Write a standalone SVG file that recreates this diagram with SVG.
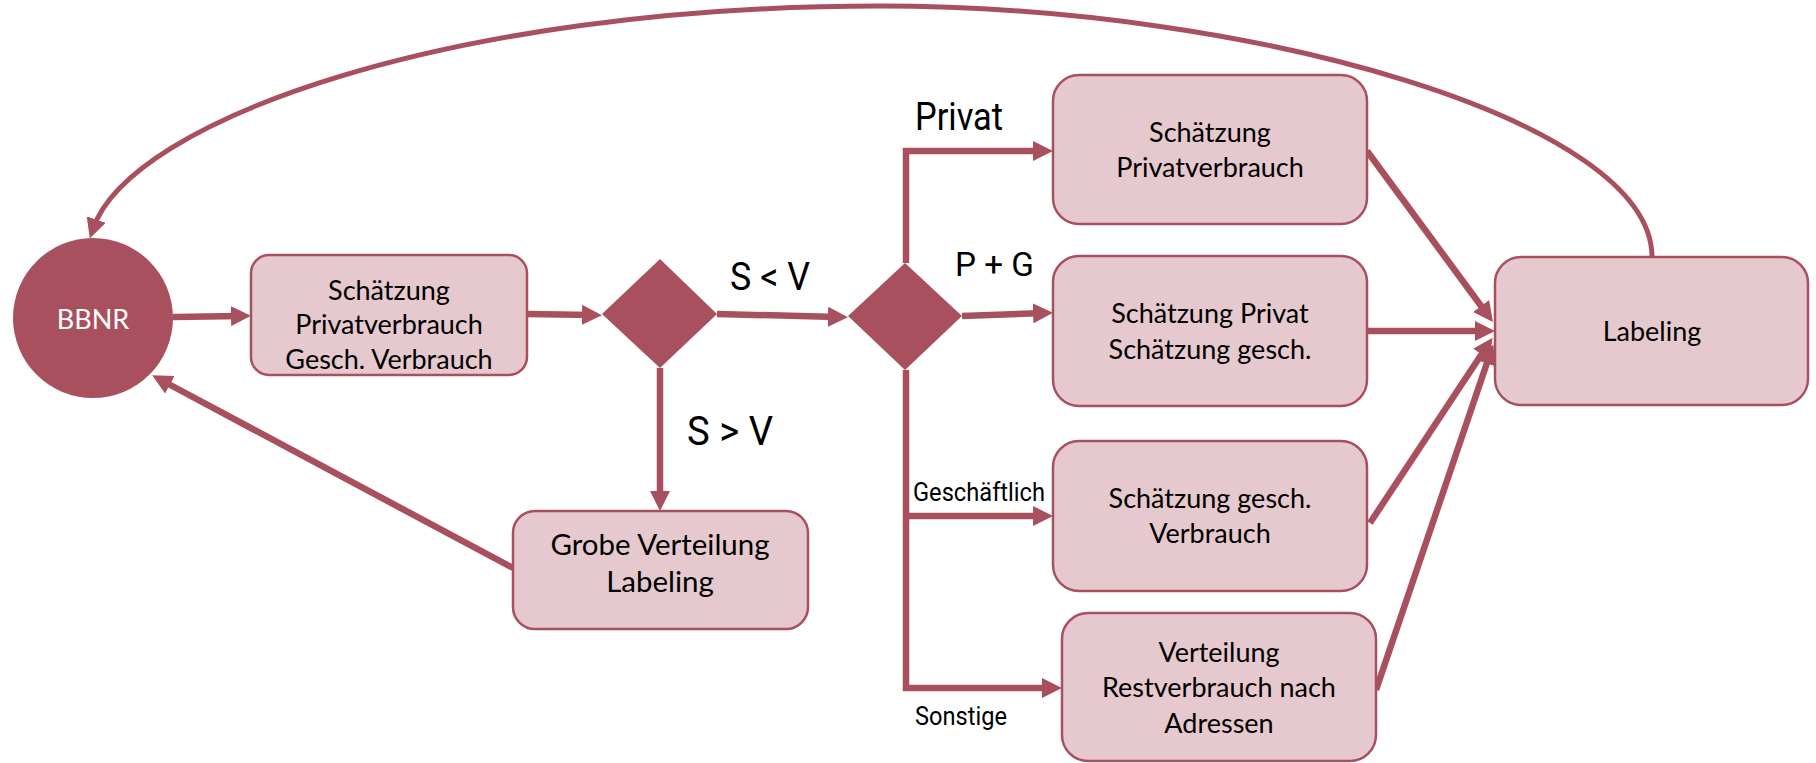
<svg xmlns="http://www.w3.org/2000/svg" width="1816" height="763" viewBox="0 0 1816 763">
<defs>
<style>
.box{fill:#e6c9ce;stroke:#a9505f;stroke-width:2.5}
.dec{fill:#a9505f}
.bt{font-family:Lato,"Open Sans",sans-serif;fill:#000;text-anchor:middle}
.lbl{font-family:Roboto,"Liberation Sans",sans-serif;fill:#000}
.con{fill:none;stroke:#a9505f;stroke-width:6.5}
.thin{fill:none;stroke:#a9505f;stroke-width:5}
</style>
<marker id="ah" viewBox="0 0 20 20" refX="10" refY="10" markerWidth="20" markerHeight="20" markerUnits="userSpaceOnUse" orient="auto">
<path d="M0,0 L20,10 L0,20 z" fill="#a9505f"/>
</marker>
</defs>
<rect width="1816" height="763" fill="#fff"/>

<g id="connectors">
<path class="thin" d="M1652,257 C1652,120 1250,6 880,6 C450,6 130,120 93,229" marker-end="url(#ah)"/>
<path class="con" d="M173,317 L241,316" marker-end="url(#ah)"/>
<path class="con" d="M527,314 L592,315" marker-end="url(#ah)"/>
<path class="con" d="M717,314 L838,317" marker-end="url(#ah)"/>
<path class="con" d="M660,368 L660,501" marker-end="url(#ah)"/>
<path class="con" d="M513,568 L161,380" marker-end="url(#ah)"/>
<path class="con" d="M906,263 L906,151 L1043,151" marker-end="url(#ah)"/>
<path class="con" d="M962,316 L1043,313" marker-end="url(#ah)"/>
<path class="con" d="M906,370 L906,688 L1052,688" marker-end="url(#ah)"/>
<path class="con" d="M906,516 L1043,516" marker-end="url(#ah)"/>
<path class="con" d="M1367,151 L1487,314" marker-end="url(#ah)"/>
<path class="con" d="M1367,331 L1485,331" marker-end="url(#ah)"/>
<path class="con" d="M1370,523 L1487,346" marker-end="url(#ah)"/>
<path class="con" d="M1376,690 L1490,354" marker-end="url(#ah)"/>
</g>

<g id="bbnr">
<circle cx="93" cy="318" r="80" fill="#a9505f"/>
<text class="bt" x="93" y="329" font-size="27" style="fill:#fff">BBNR</text>
</g>

<g id="box1">
<rect class="box" x="251" y="255" width="276" height="120" rx="18"/>
<text class="bt" x="389" y="300" font-size="27">Schätzung</text>
<text class="bt" x="389" y="334" font-size="27">Privatverbrauch</text>
<text class="bt" x="389" y="369" font-size="27">Gesch. Verbrauch</text>
</g>

<g id="decision1"><polygon class="dec" points="660,259 717,314 660,368 602,314"/></g>
<g id="decision2"><polygon class="dec" points="905,263 962,316 905,370 848,316"/></g>

<g id="grobe">
<rect class="box" x="513" y="511" width="295" height="118" rx="22"/>
<text class="bt" x="660" y="555" font-size="29.5">Grobe Verteilung</text>
<text class="bt" x="660" y="592" font-size="29.5">Labeling</text>
</g>

<g id="privat">
<rect class="box" x="1053" y="75" width="314" height="149" rx="26"/>
<text class="bt" x="1210" y="142" font-size="27">Schätzung</text>
<text class="bt" x="1210" y="177" font-size="27">Privatverbrauch</text>
</g>

<g id="pg">
<rect class="box" x="1053" y="256" width="314" height="150" rx="26"/>
<text class="bt" x="1210" y="323" font-size="27">Schätzung Privat</text>
<text class="bt" x="1210" y="359" font-size="27">Schätzung gesch.</text>
</g>

<g id="gesch">
<rect class="box" x="1053" y="441" width="314" height="150" rx="26"/>
<text class="bt" x="1210" y="508" font-size="27">Schätzung gesch.</text>
<text class="bt" x="1210" y="543" font-size="27">Verbrauch</text>
</g>

<g id="verteilung">
<rect class="box" x="1062" y="613" width="314" height="148" rx="26"/>
<text class="bt" x="1219" y="662" font-size="27">Verteilung</text>
<text class="bt" x="1219" y="697" font-size="27">Restverbrauch nach</text>
<text class="bt" x="1219" y="733" font-size="27">Adressen</text>
</g>

<g id="labeling">
<rect class="box" x="1495" y="257" width="313" height="148" rx="26"/>
<text class="bt" x="1652" y="341" font-size="27">Labeling</text>
</g>

<g id="labels">
<text class="lbl" x="915" y="130" font-size="38" textLength="88" lengthAdjust="spacingAndGlyphs">Privat</text>
<text class="lbl" x="730" y="290" font-size="38" textLength="80" lengthAdjust="spacingAndGlyphs">S &lt; V</text>
<text class="lbl" x="955" y="276" font-size="33" textLength="79" lengthAdjust="spacingAndGlyphs">P + G</text>
<text class="lbl" x="687" y="445" font-size="40" textLength="86" lengthAdjust="spacingAndGlyphs">S &gt; V</text>
<text class="lbl" x="913" y="501" font-size="26" textLength="132" lengthAdjust="spacingAndGlyphs">Geschäftlich</text>
<text class="lbl" x="915" y="725" font-size="26" textLength="92" lengthAdjust="spacingAndGlyphs">Sonstige</text>
</g>
</svg>
